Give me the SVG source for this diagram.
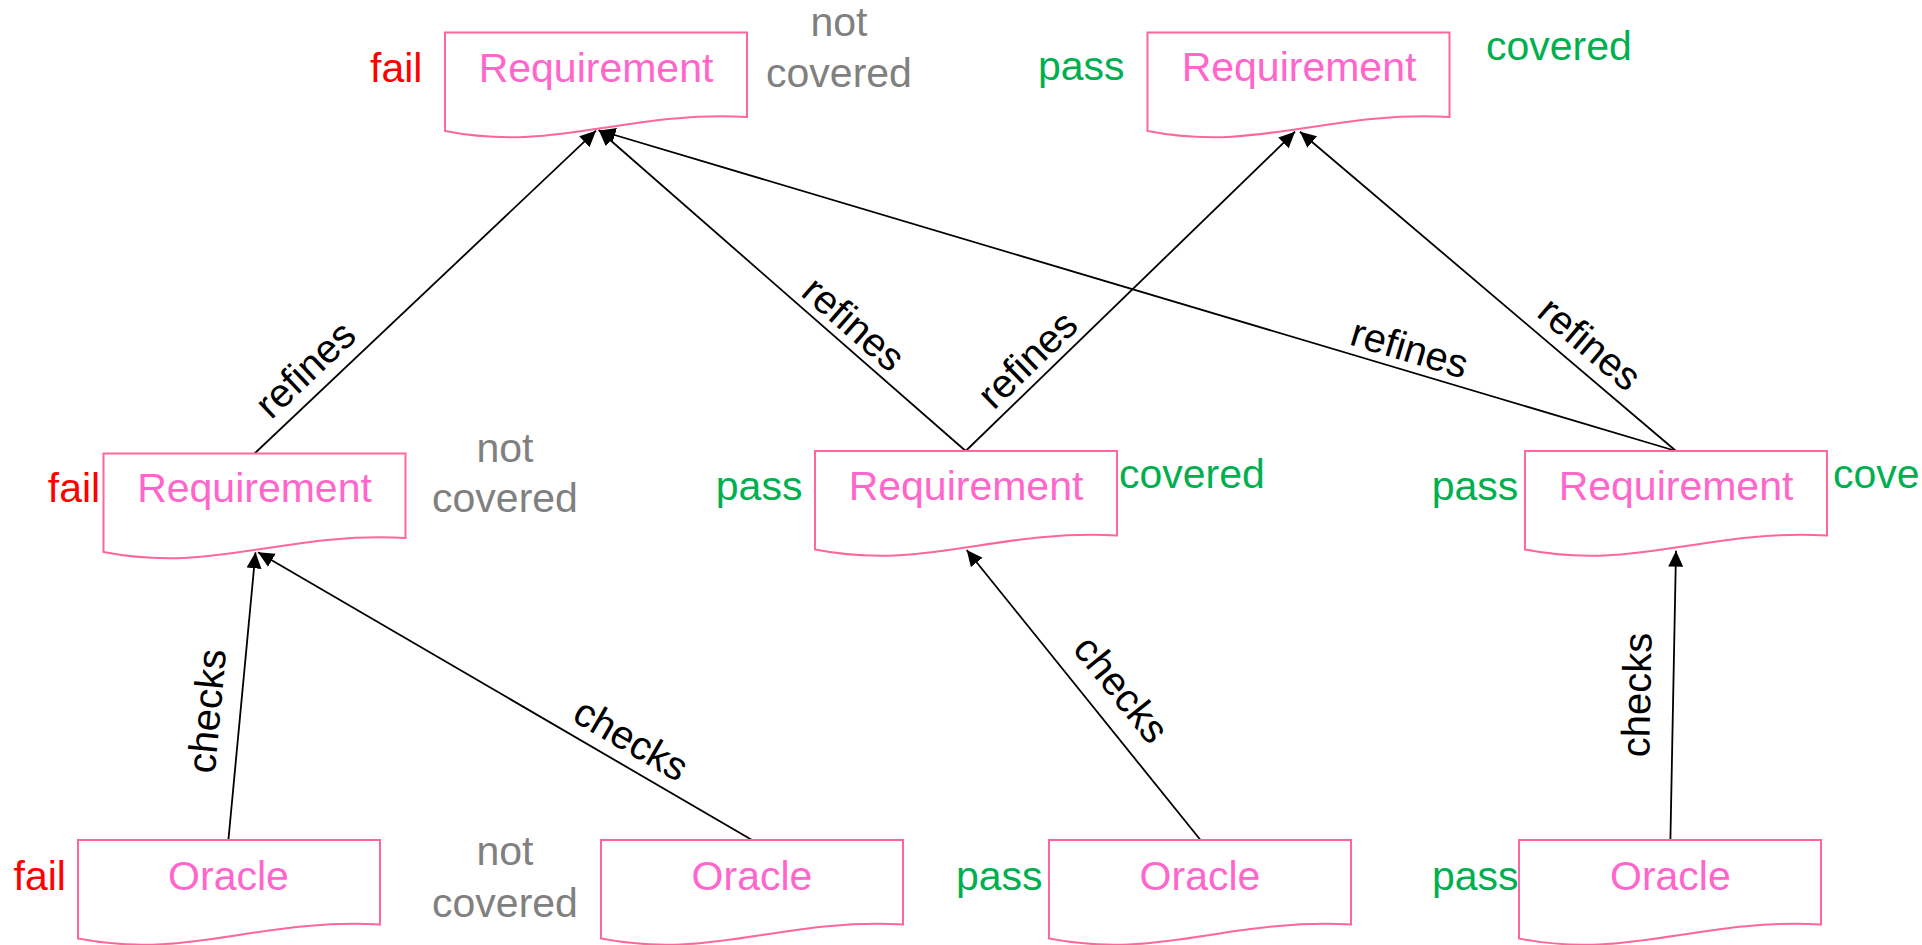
<svg xmlns="http://www.w3.org/2000/svg" xmlns:xlink="http://www.w3.org/1999/xlink" width="1922" height="945" viewBox="0 0 1922 945">
  <style>
    text { font-family: "Liberation Sans", Arial, sans-serif; font-size: 41px; }
    .doc { fill: #ffffff; stroke: #ff6699; stroke-width: 2; }
    .name { fill: #ff66cc; text-anchor: middle; }
    .fail { fill: #ff0000; }
    .pass { fill: #00b050; }
    .cov { fill: #00b050; }
    .nocov { fill: #808080; text-anchor: middle; }
    .edge { fill: none; stroke: #000000; stroke-width: 1.8; marker-end: url(#arrow); }
    .elabel { fill: #000000; text-anchor: middle; font-size: 40px; }
  </style>
  <defs>
    <!-- document shape: flat top, wavy bottom edge -->
    <path id="doc" d="M0,0 H302 V84.5 C180,78 110,120 0,98.5 Z"/>
    <marker id="arrow" markerUnits="userSpaceOnUse" markerWidth="18" markerHeight="16" refX="16" refY="7.5" orient="auto">
      <polygon points="0,0 16,7.5 0,15" fill="#000000"/>
    </marker>
  </defs>

  <rect width="1922" height="945" fill="#ffffff"/>

  <!-- connectors -->
  <g id="connectors">
    <path class="edge" d="M254.5,453.5 L596,130.7"/>
    <path class="edge" d="M965.7,451 L598.7,130"/>
    <path class="edge" d="M1676,451 L599.5,130.5"/>
    <path class="edge" d="M965.7,451 L1295,131.7"/>
    <path class="edge" d="M1676,451 L1300,131.7"/>
    <path class="edge" d="M228.4,840 L255.5,552.3"/>
    <path class="edge" d="M752,840 L258,552.3"/>
    <path class="edge" d="M1200.5,840 L966.7,550"/>
    <path class="edge" d="M1670.4,840 L1676,550.7"/>

    <text class="elabel" transform="translate(305,369) rotate(-43.4)" y="14">refines</text>
    <text class="elabel" transform="translate(854,323.6) rotate(41.2)" y="14">refines</text>
    <text class="elabel" transform="translate(1027.2,359.2) rotate(-44.1)" y="14">refines</text>
    <text class="elabel" transform="translate(1409.7,348.1) rotate(16.6)" y="14">refines</text>
    <text class="elabel" transform="translate(1590,343.5) rotate(40.3)" y="14">refines</text>
    <text class="elabel" transform="translate(206.5,711) rotate(-84.7)" y="14">checks</text>
    <text class="elabel" transform="translate(631.3,739.2) rotate(30.2)" y="14">checks</text>
    <text class="elabel" transform="translate(1121.6,688.9) rotate(51.1)" y="14">checks</text>
    <text class="elabel" transform="translate(1636.4,695) rotate(-88.9)" y="14">checks</text>
  </g>

  <!-- top row requirements -->
  <g id="req-top-left">
    <use xlink:href="#doc" class="doc" transform="translate(445,32.5)"/>
    <text class="name" x="596" y="82">Requirement</text>
    <text class="fail" x="370" y="82">fail</text>
    <text class="nocov" x="839" y="36">not</text>
    <text class="nocov" x="839" y="87">covered</text>
  </g>
  <g id="req-top-right">
    <use xlink:href="#doc" class="doc" transform="translate(1147.5,32.5)"/>
    <text class="name" x="1299" y="81">Requirement</text>
    <text class="pass" x="1038" y="80">pass</text>
    <text class="cov" x="1486" y="60">covered</text>
  </g>

  <!-- middle row requirements -->
  <g id="req-mid-left">
    <use xlink:href="#doc" class="doc" transform="translate(103.5,453.5)"/>
    <text class="name" x="254.5" y="502">Requirement</text>
    <text class="fail" x="47.8" y="502">fail</text>
    <text class="nocov" x="505" y="462">not</text>
    <text class="nocov" x="505" y="512">covered</text>
  </g>
  <g id="req-mid">
    <use xlink:href="#doc" class="doc" transform="translate(815,451)"/>
    <text class="name" x="966" y="500">Requirement</text>
    <text class="pass" x="715.8" y="500">pass</text>
    <text class="cov" x="1119" y="488">covered</text>
  </g>
  <g id="req-mid-right">
    <use xlink:href="#doc" class="doc" transform="translate(1525,451)"/>
    <text class="name" x="1676" y="500">Requirement</text>
    <text class="pass" x="1431.7" y="500">pass</text>
    <text class="cov" x="1833" y="488">covered</text>
  </g>

  <!-- bottom row oracles -->
  <g id="oracle-1">
    <use xlink:href="#doc" class="doc" transform="translate(78,840)"/>
    <text class="name" x="228.5" y="890">Oracle</text>
    <text class="fail" x="13.5" y="890">fail</text>
  </g>
  <g id="oracle-2">
    <use xlink:href="#doc" class="doc" transform="translate(601,840)"/>
    <text class="name" x="752" y="890">Oracle</text>
    <text class="nocov" x="505" y="865">not</text>
    <text class="nocov" x="505" y="917">covered</text>
  </g>
  <g id="oracle-3">
    <use xlink:href="#doc" class="doc" transform="translate(1049,840)"/>
    <text class="name" x="1200" y="890">Oracle</text>
    <text class="pass" x="956" y="890">pass</text>
  </g>
  <g id="oracle-4">
    <use xlink:href="#doc" class="doc" transform="translate(1519,840)"/>
    <text class="name" x="1670.4" y="890">Oracle</text>
    <text class="pass" x="1432" y="890">pass</text>
  </g>
</svg>
